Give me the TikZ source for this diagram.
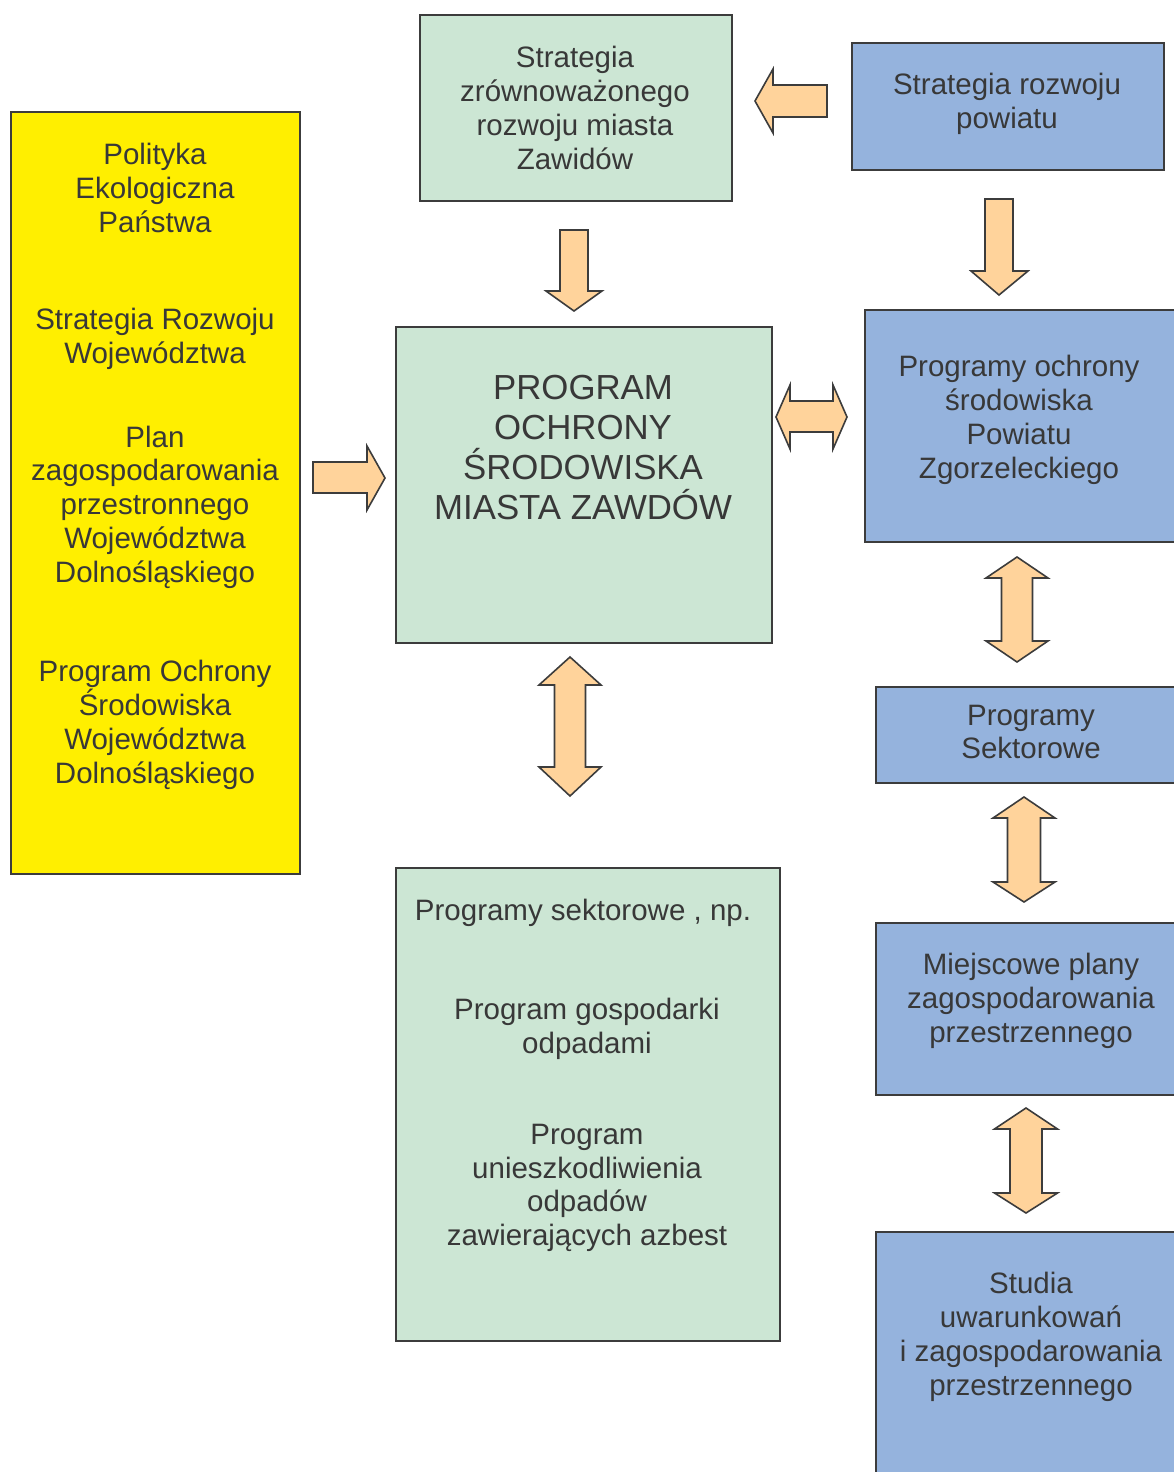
\documentclass[tikz,border=0pt]{standalone}
\usepackage{fontspec}
\setmainfont{Liberation Sans}
\definecolor{bord}{HTML}{3C3C3C}
\definecolor{txtc}{HTML}{383838}
\definecolor{grn}{HTML}{CCE6D4}
\definecolor{blu}{HTML}{95B3DD}
\definecolor{yel}{HTML}{FFEF00}
\definecolor{arrc}{HTML}{FFD39B}
\newcommand{\myvdbl}[7]{%
\draw[barrow] (#1,#2) -- ({#1+#6},#3) -- ({#1+#7},#3) -- ({#1+#7},#4) -- ({#1+#6},#4) -- (#1,#5) -- ({#1-#6},#4) -- ({#1-#7},#4) -- ({#1-#7},#3) -- ({#1-#6},#3) -- cycle;}
\begin{document}
\begin{tikzpicture}[x=1pt,y=-1pt,
  box/.style={draw=bord, line width=1.6pt, inner sep=0pt, anchor=north west},
  txt/.style={text=txtc, align=center, font=\fontsize{29.5}{33.8}\selectfont, inner sep=0pt},
  bigtxt/.style={text=txtc, align=center, font=\fontsize{34.8}{40}\selectfont, inner sep=0pt},
  barrow/.style={draw=bord, fill=arrc, line width=1.6pt, line join=miter}]
\useasboundingbox (0,0) rectangle (1174,1472);
\fill[white] (0,0) rectangle (1174,1472);
\clip (0,0) rectangle (1174,1472);
% boxes
\node[box, fill=yel, minimum width=289pt, minimum height=762pt] (pol) at (10,111) {};
\node[box, fill=grn, minimum width=312pt, minimum height=186pt] (szr) at (419,14) {};
\node[box, fill=blu, minimum width=312pt, minimum height=127pt] (srp) at (851,42) {};
\node[box, fill=grn, minimum width=376pt, minimum height=316pt] (main) at (395,326) {};
\node[box, fill=blu, minimum width=330pt, minimum height=232pt] (poc) at (864,309) {};
\node[box, fill=blu, minimum width=320pt, minimum height=96pt] (psek) at (875,686) {};
\node[box, fill=blu, minimum width=320pt, minimum height=172pt] (mpz) at (875,922) {};
\node[box, fill=blu, minimum width=320pt, minimum height=260pt] (stu) at (875,1231) {};
\node[box, fill=grn, minimum width=384pt, minimum height=473pt] (psk) at (395,867) {};
% texts
\node[txt] (t1) at (155,188) {Polityka\\Ekologiczna\\Państwa};
\node[txt] (t2) at (155,339) {Strategia Rozwoju\\Województwa};
\node[txt] (t3) at (155,507) {Plan\\zagospodarowania\\przestronnego\\Województwa\\Dolnośląskiego};
\node[txt] (t4) at (155,725) {Program Ochrony\\Środowiska\\Województwa\\Dolnośląskiego};
\node[txt] (t5) at (575,108) {Strategia\\zrównoważonego\\rozwoju miasta\\Zawidów};
\node[txt] (t6) at (1007,104) {Strategia rozwoju\\powiatu};
\node[bigtxt] (t7) at (583,448) {PROGRAM\\OCHRONY\\ŚRODOWISKA\\MIASTA ZAWDÓW};
\node[txt] (t8) at (1019,420) {Programy ochrony\\środowiska\\Powiatu\\Zgorzeleckiego};
\node[txt] (t9) at (1031,732) {Programy\\Sektorowe};
\node[txt] (t10) at (1031,1001) {Miejscowe plany\\zagospodarowania\\przestrzennego};
\node[txt] (t11) at (1031,1337) {Studia\\uwarunkowań\\i zagospodarowania\\przestrzennego};
\node[txt] (t12) at (583,913) {Programy sektorowe , np.};
\node[txt] (t13) at (587,1029) {Program gospodarki\\odpadami};
\node[txt] (t14) at (587,1188) {Program\\unieszkodliwienia\\odpadów\\zawierających azbest};
% block arrows
\draw[barrow] (827,85) -- (773,85) -- (773,69) -- (755,101) -- (773,133) -- (773,117) -- (827,117) -- cycle;
\draw[barrow] (313,462) -- (367,462) -- (367,446) -- (385,478) -- (367,510) -- (367,493) -- (313,493) -- cycle;
\draw[barrow] (776,417) -- (790,385) -- (790,401) -- (833,401) -- (833,385) -- (847,417) -- (833,449) -- (833,432) -- (790,432) -- (790,449) -- cycle;
\draw[barrow] (560,230) -- (588,230) -- (588,291) -- (602,291) -- (574,311) -- (546,291) -- (560,291) -- cycle;
\draw[barrow] (985,199) -- (1013,199) -- (1013,271) -- (1028,271) -- (999,295) -- (971,271) -- (985,271) -- cycle;
\myvdbl{570}{657}{685}{767}{796}{31}{15.5}
\myvdbl{1017}{557}{578}{641}{662}{31}{15.5}
\myvdbl{1024}{797}{818}{882}{902}{31}{16.5}
\myvdbl{1026}{1108}{1129}{1193}{1213}{31.5}{16}
\end{tikzpicture}
\end{document}
